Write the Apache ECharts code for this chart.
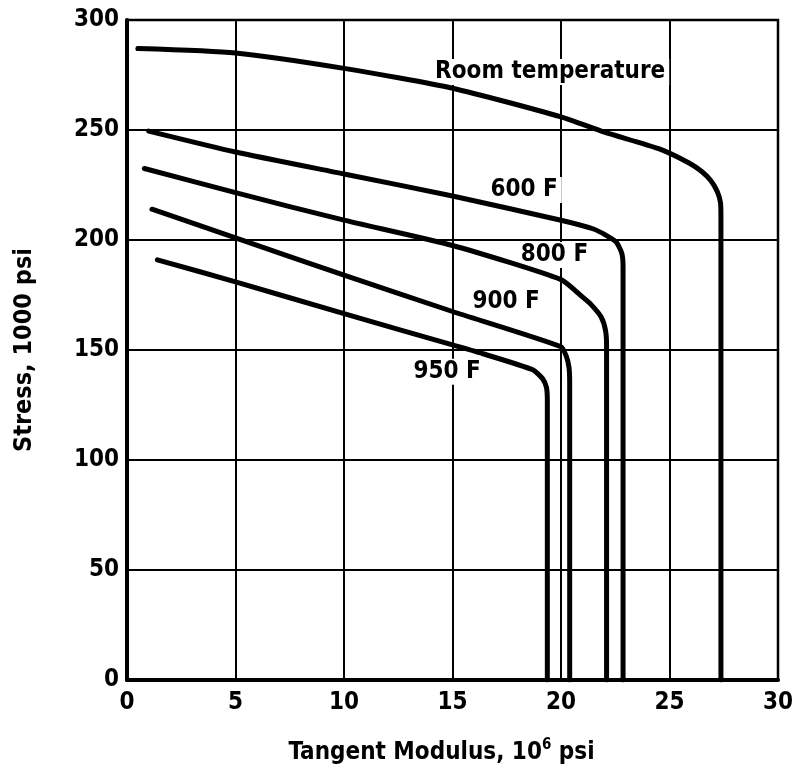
<!DOCTYPE html>
<html>
<head>
<meta charset="utf-8">
<script src="https://cdn.jsdelivr.net/npm/echarts@6/dist/echarts.min.js"></script>
<style>
  html, body { margin: 0; padding: 0; background: #fff; }
  #chart { width: 804px; height: 775px; }
</style>
</head>
<body>
<div id="chart"></div>
<script>
// tangent modulus (10^6 psi), stress (1000 psi)
var roomTemp = [[0.5,287],[5,285],[10,278],[15,269],[20,256],[22,249],[24.5,241.5],[25.9,235],[26.5,231],[26.9,227],[27.2,222],[27.35,217],[27.37,210],[27.37,0]];
var f600 = [[1,249.5],[5,240],[10,230],[15,220],[20,209],[21.5,205],[22.1,202],[22.55,199],[22.8,194],[22.86,188],[22.86,0]];
var f800 = [[0.8,232.5],[5,221.5],[10,209],[15,197.5],[20,182],[21,174],[21.4,170.5],[21.85,165],[22.05,159],[22.1,152],[22.1,0]];
var f900 = [[1.15,214],[5,201],[10,184],[15,167.5],[20,151.5],[20.25,147],[20.37,142],[20.4,135],[20.4,0]];
var f950 = [[1.4,191],[5,181],[10,166.5],[15,152.3],[16.4,148.3],[18.7,141],[19.15,137],[19.33,133],[19.37,127],[19.37,0]];

var seriesNames = ["Room temperature", "600 F", "800 F", "900 F", "950 F"];
var seriesData = [roomTemp, f600, f800, f900, f950];
// where each curve's label sits (data units)
var labelAt = [[19.5,276.4],[18.3,222.7],[19.7,193.2],[17.47,172],[14.75,140.1]];

var xTicks = [0, 5, 10, 15, 20, 25, 30];
var yTicks = [0, 50, 100, 150, 200, 250, 300];

var font = "'DejaVu Sans Condensed', 'DejaVu Sans'";

var chart = echarts.init(document.getElementById("chart"));

var series = seriesData.map(function (d, i) {
  return {
    name: seriesNames[i],
    type: "line",
    data: d,
    showSymbol: false,
    symbol: "none",
    smooth: 0.2,
    lineStyle: { color: "#000", width: 5, cap: "round", join: "round" },
    z: 3
  };
});

// curve names, drawn under the curves but over the grid
series.push({
  type: "scatter",
  symbolSize: 0,
  silent: true,
  z: 2,
  itemStyle: { opacity: 1, color: "#000" },
  data: labelAt.map(function (p, i) {
    return { name: seriesNames[i], value: p };
  }),
  label: {
    show: true,
    position: "inside",
    formatter: "{b}",
    color: "#000",
    opacity: 1,
    fontFamily: font,
    fontWeight: "bold",
    fontSize: 24,
    backgroundColor: "#fff",
    padding: [1, 4]
  }
});

var option = {
  backgroundColor: "#fff",
  animation: false,
  grid: { left: 127, right: 26, top: 20, bottom: 95 },
  xAxis: {
    type: "value",
    min: 0,
    max: 30,
    interval: 5,
    name: "Tangent Modulus, {b|10}{s|6} psi",
    nameLocation: "middle",
    nameGap: 58,
    nameTextStyle: {
      color: "#000",
      fontFamily: font,
      fontWeight: "bold",
      fontSize: 24,
      padding: [0, 22, 0, 0],
      rich: {
        b: { fontFamily: font, fontWeight: "bold", fontSize: 24, color: "#000" },
        s: { fontFamily: font, fontWeight: "bold", fontSize: 15, color: "#000", verticalAlign: "top", padding: [0, 0, 14, 0] }
      }
    },
    axisLine: { show: true, lineStyle: { color: "#000", width: 4 } },
    axisTick: { show: false },
    axisLabel: { color: "#000", fontFamily: font, fontWeight: "bold", fontSize: 24, margin: 11 },
    splitLine: { show: true, lineStyle: { color: "#000", width: 2 } }
  },
  yAxis: {
    type: "value",
    min: 0,
    max: 300,
    interval: 50,
    name: "Stress, 1000 psi",
    nameLocation: "middle",
    nameGap: 90,
    nameTextStyle: { color: "#000", fontFamily: font, fontWeight: "bold", fontSize: 25 },
    axisLine: { show: true, lineStyle: { color: "#000", width: 4 } },
    axisTick: { show: false },
    axisLabel: { color: "#000", fontFamily: font, fontWeight: "bold", fontSize: 24, margin: 8 },
    splitLine: { show: true, lineStyle: { color: "#000", width: 2 } }
  },
  series: series
};

chart.setOption(option);

// frame on the right / top like the printed grid
chart.setOption({
  graphic: [{
    type: "rect",
    shape: {
      x: chart.convertToPixel({ xAxisIndex: 0 }, xTicks[0]),
      y: chart.convertToPixel({ yAxisIndex: 0 }, yTicks[yTicks.length - 1]),
      width: chart.convertToPixel({ xAxisIndex: 0 }, xTicks[xTicks.length - 1]) - chart.convertToPixel({ xAxisIndex: 0 }, xTicks[0]),
      height: chart.convertToPixel({ yAxisIndex: 0 }, yTicks[0]) - chart.convertToPixel({ yAxisIndex: 0 }, yTicks[yTicks.length - 1])
    },
    style: { fill: "none", stroke: "#000", lineWidth: 2.5 },
    silent: true,
    z: 1
  }]
});
</script>
</body>
</html>
